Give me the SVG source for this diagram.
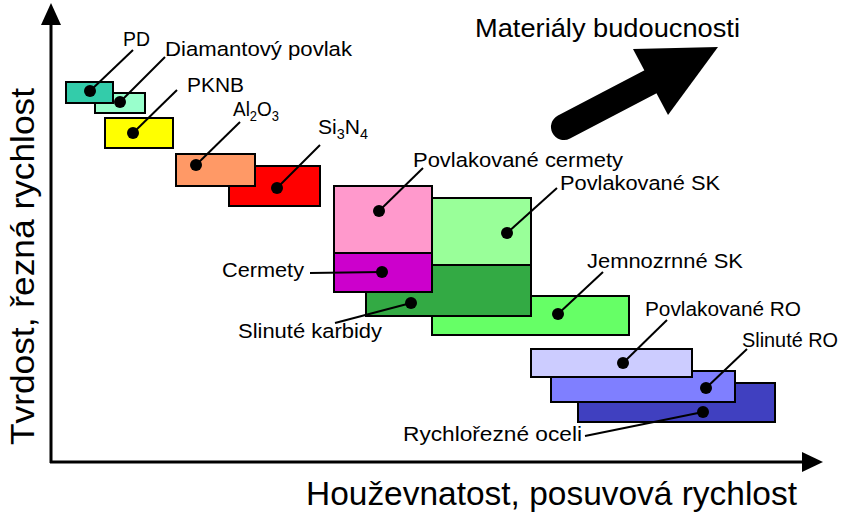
<svg xmlns="http://www.w3.org/2000/svg" width="844" height="513" viewBox="0 0 844 513">
<style>
  .box { stroke: #000; stroke-width: 2; }
  .dot { fill: #000; }
  .lbl { font-family: "Liberation Sans", Arial, sans-serif; font-size: 20.5px; fill: #000; }
  .axl { font-family: "Liberation Sans", Arial, sans-serif; font-size: 33px; fill: #000; }
  .lead { stroke: #000; stroke-width: 2; fill: none; }
  .sub { font-size: 14px; }
</style>
<rect width="844" height="513" fill="#fff"/>
<g id="axes">
  <line x1="51" y1="463" x2="51" y2="20" stroke="#000" stroke-width="3"/>
  <line x1="50" y1="462" x2="806" y2="462" stroke="#000" stroke-width="3"/>
  <polygon points="51,3 41,25 61,25" fill="#000"/>
  <polygon points="823,462 802,452 802,472" fill="#000"/>
  <text class="axl" transform="translate(34,445) rotate(-90)" textLength="357" lengthAdjust="spacingAndGlyphs">Tvrdost, řezná rychlost</text>
  <text class="axl" x="306" y="505" textLength="491" lengthAdjust="spacingAndGlyphs">Houževnatost, posuvová rychlost</text>
</g>
<g id="future">
  <line x1="564" y1="127" x2="652" y2="81" stroke="#000" stroke-width="26" stroke-linecap="round"/>
  <polygon points="633,49 718,47 668,115" fill="#000"/>
  <text class="lbl" x="475" y="37" style="font-size:25px" textLength="265" lengthAdjust="spacingAndGlyphs">Materiály budoucnosti</text>
</g>
<g id="diamant">
  <rect class="box" x="95" y="93" width="50" height="20" fill="#99FFCC"/>
  <circle class="dot" cx="120" cy="102" r="6"/>
  <text class="lbl" x="165" y="56" textLength="187" lengthAdjust="spacingAndGlyphs">Diamantový povlak</text>
</g>
<g id="pd">
  <rect class="box" x="66" y="82" width="47" height="21" fill="#33CCAA"/>
  <circle class="dot" cx="90" cy="91" r="6"/>
  <text class="lbl" x="123" y="46" textLength="27" lengthAdjust="spacingAndGlyphs">PD</text>
</g>
<g id="pknb">
  <rect class="box" x="105" y="118" width="68" height="30" fill="#FFFF00"/>
  <circle class="dot" cx="133" cy="133" r="6"/>
  <text class="lbl" x="187" y="92" textLength="57" lengthAdjust="spacingAndGlyphs">PKNB</text>
</g>
<g id="si3n4">
  <rect class="box" x="229" y="166" width="91" height="40" fill="#FF0000"/>
  <circle class="dot" cx="277" cy="188" r="6"/>
  <text class="lbl" x="318" y="134" textLength="50" lengthAdjust="spacingAndGlyphs">Si<tspan class="sub" dy="5">3</tspan><tspan dy="-5">N</tspan><tspan class="sub" dy="5">4</tspan></text>
</g>
<g id="al2o3">
  <rect class="box" x="176" y="154" width="79" height="32" fill="#FF9966"/>
  <circle class="dot" cx="196" cy="165" r="6"/>
  <text class="lbl" x="233" y="116" textLength="46" lengthAdjust="spacingAndGlyphs">Al<tspan class="sub" dy="5">2</tspan><tspan dy="-5">O</tspan><tspan class="sub" dy="5">3</tspan></text>
</g>
<g id="povl-sk">
  <rect class="box" x="432" y="198" width="99" height="67" fill="#99FF99"/>
  <circle class="dot" cx="507" cy="233" r="6"/>
  <text class="lbl" x="560" y="190" textLength="160" lengthAdjust="spacingAndGlyphs">Povlakované SK</text>
</g>
<g id="jemno-sk">
  <rect class="box" x="432" y="296" width="197" height="39" fill="#66FF66"/>
  <circle class="dot" cx="558" cy="314" r="6"/>
  <text class="lbl" x="587" y="268" textLength="156" lengthAdjust="spacingAndGlyphs">Jemnozrnné SK</text>
</g>
<g id="slin-karb">
  <rect class="box" x="366" y="265" width="165" height="51" fill="#33AA44"/>
  <circle class="dot" cx="411" cy="303" r="6"/>
  <text class="lbl" x="238" y="338" textLength="144" lengthAdjust="spacingAndGlyphs">Slinuté karbidy</text>
</g>
<g id="povl-cermety">
  <rect class="box" x="334" y="186" width="98" height="67" fill="#FF99CC"/>
  <circle class="dot" cx="379" cy="211" r="6"/>
  <text class="lbl" x="413" y="167" textLength="210" lengthAdjust="spacingAndGlyphs">Povlakované cermety</text>
</g>
<g id="cermety">
  <rect class="box" x="334" y="253" width="98" height="39" fill="#CC00CC"/>
  <circle class="dot" cx="382" cy="272" r="6"/>
  <text class="lbl" x="222" y="277" textLength="82" lengthAdjust="spacingAndGlyphs">Cermety</text>
</g>
<g id="rychlorezne">
  <rect class="box" x="578" y="383" width="197" height="39" fill="#4040C0"/>
  <circle class="dot" cx="703" cy="412" r="6"/>
  <text class="lbl" x="403" y="441" textLength="179" lengthAdjust="spacingAndGlyphs">Rychlořezné oceli</text>
</g>
<g id="slin-ro">
  <rect class="box" x="551" y="371" width="184" height="31" fill="#7F7FFF"/>
  <circle class="dot" cx="706" cy="388" r="6"/>
  <text class="lbl" x="742" y="347" textLength="96" lengthAdjust="spacingAndGlyphs">Slinuté RO</text>
</g>
<g id="povl-ro">
  <rect class="box" x="531" y="349" width="161" height="28" fill="#CCCCFF"/>
  <circle class="dot" cx="623" cy="363" r="6"/>
  <text class="lbl" x="645" y="316" textLength="156" lengthAdjust="spacingAndGlyphs">Povlakované RO</text>
</g>
<g id="connectors">
  <line class="lead" x1="133" y1="50" x2="90" y2="91"/>
  <line class="lead" x1="165" y1="57" x2="120" y2="102"/>
  <line class="lead" x1="177" y1="90" x2="133" y2="133"/>
  <line class="lead" x1="240" y1="122" x2="196" y2="165"/>
  <line class="lead" x1="320" y1="145" x2="277" y2="188"/>
  <line class="lead" x1="423" y1="168" x2="379" y2="211"/>
  <line class="lead" x1="557" y1="188" x2="507" y2="233"/>
  <line class="lead" x1="310" y1="273" x2="382" y2="272"/>
  <line class="lead" x1="335" y1="323" x2="411" y2="303"/>
  <line class="lead" x1="603" y1="272" x2="558" y2="314"/>
  <line class="lead" x1="667" y1="320" x2="623" y2="363"/>
  <line class="lead" x1="747" y1="349" x2="706" y2="388"/>
  <line class="lead" x1="585" y1="436" x2="703" y2="412"/>
</g>
</svg>
